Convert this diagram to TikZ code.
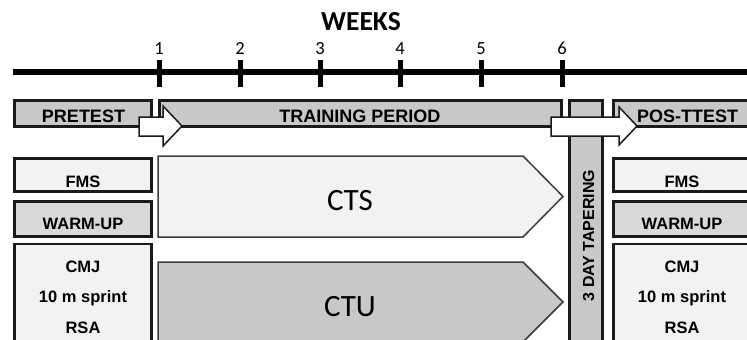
\documentclass[tikz,border=0pt]{standalone}
\usepackage{fontspec}
\setmainfont{Liberation Sans}
\newfontfamily\carlito{Carlito}
\definecolor{hdr}{HTML}{C8C8C8}
\definecolor{lite}{HTML}{F2F2F2}
\definecolor{warm}{HTML}{D9D9D9}
\definecolor{edge}{HTML}{1A1A1A}
\begin{document}
\begin{tikzpicture}[x=1pt,y=-1pt,
  boxst/.style={draw=edge, line width=2.6pt, inner sep=0pt},
  hdrbox/.style={boxst, fill=hdr, minimum height=26.4pt},
  lowbox/.style={boxst, fill=lite},
  lbl/.style={anchor=base, inner sep=0pt, font=\bfseries\fontsize{16.5}{16.5}\selectfont},
  hlbl/.style={anchor=base, inner sep=0pt, font=\bfseries\fontsize{18}{18}\selectfont},
  big/.style={anchor=base, inner sep=0pt, font=\carlito\fontsize{31}{31}\selectfont},
  wk/.style={anchor=base, inner sep=0pt, font=\carlito\fontsize{18.5}{18.5}\selectfont},
  blockarrow/.style={draw=edge, line width=1.5pt, fill=white, line join=miter},
  program/.style={draw=edge!85, line width=1.5pt},
  tick/.style={line width=5pt}]
\clip (0,0) rectangle (747,340);
\fill[white] (0,0) rectangle (747,340);

% title and timeline
\node[anchor=base, inner sep=0pt, font=\carlito\bfseries\fontsize{27.5}{27.5}\selectfont] (weeks) at (361,30) {WEEKS};
\coordinate (tlA) at (13,72);
\coordinate (tlB) at (760,72);
\draw[line width=5.5pt] (tlA) -- (tlB);
\foreach \i/\x in {1/159,2/240,3/320,4/400,5/481,6/562}{
  \coordinate (t\i a) at (\x,60);
  \coordinate (t\i b) at (\x,87);
  \draw[tick] (t\i a) -- (t\i b);
  \node[wk] (n\i) at (\x,54.5) {\i};
}

% header row
\node[hdrbox, minimum width=137pt] (pre) at (83,113.5) {};
\node[hlbl] (prel) at (83.5,122) {PRETEST};
\node[hdrbox, minimum width=402pt] (train) at (360.5,113.5) {};
\node[hlbl] (trainl) at (360,122) {TRAINING PERIOD};
\node[boxst, fill=hdr, minimum width=33pt, minimum height=243pt] (taper) at (586,222) {};
\node[anchor=base, inner sep=0pt, rotate=90, font=\bfseries\fontsize{16}{16}\selectfont] (taperl) at (594,235.5) {3 DAY TAPERING};
\node[hdrbox, minimum width=137pt] (post) at (682,113.5) {};
\node[hlbl] (postl) at (687.5,122) {POS-TTEST};

% left tests
\node[lowbox, minimum width=137pt, minimum height=33.4pt] (fmsL) at (83,175) {};
\node[lbl] (fmsLl) at (83,187) {FMS};
\node[lowbox, fill=warm, minimum width=137pt, minimum height=35pt] (wuL) at (83,219) {};
\node[lbl] (wuLl) at (83,229.5) {WARM-UP};
\node[lowbox, minimum width=137pt, minimum height=124pt] (cmjL) at (83,306) {};
\node[lbl] (cmjLa) at (83,272.5) {CMJ};
\node[lbl] (cmjLb) at (83,302.5) {10 m sprint};
\node[lbl] (cmjLc) at (83,333) {RSA};

% right tests
\node[lowbox, minimum width=137pt, minimum height=33.4pt] (fmsR) at (682,175) {};
\node[lbl] (fmsRl) at (682,187) {FMS};
\node[lowbox, fill=warm, minimum width=137pt, minimum height=35pt] (wuR) at (682,219) {};
\node[lbl] (wuRl) at (682,229.5) {WARM-UP};
\node[lowbox, minimum width=137pt, minimum height=124pt] (cmjR) at (682,306) {};
\node[lbl] (cmjRa) at (682,272.5) {CMJ};
\node[lbl] (cmjRb) at (682,302.5) {10 m sprint};
\node[lbl] (cmjRc) at (682,333) {RSA};

% training programmes
\draw[program, fill=lite] (158,156) -- (523,156) -- (563,196.5) -- (523,237) -- (158,237) -- cycle;
\node[big] (cts) at (350,210) {CTS};
\draw[program, fill=hdr] (158,262) -- (523,262) -- (563,302) -- (523,342) -- (158,342) -- cycle;
\node[big] (ctu) at (350,316) {CTU};

% transition arrows
\draw[blockarrow] (139,117) -- (163,117) -- (163,106) -- (182,126) -- (163,146) -- (163,136) -- (139,136) -- cycle;
\draw[blockarrow] (551,117) -- (619,117) -- (619,107) -- (637,126) -- (619,145) -- (619,136) -- (551,136) -- cycle;
\end{tikzpicture}
\end{document}
